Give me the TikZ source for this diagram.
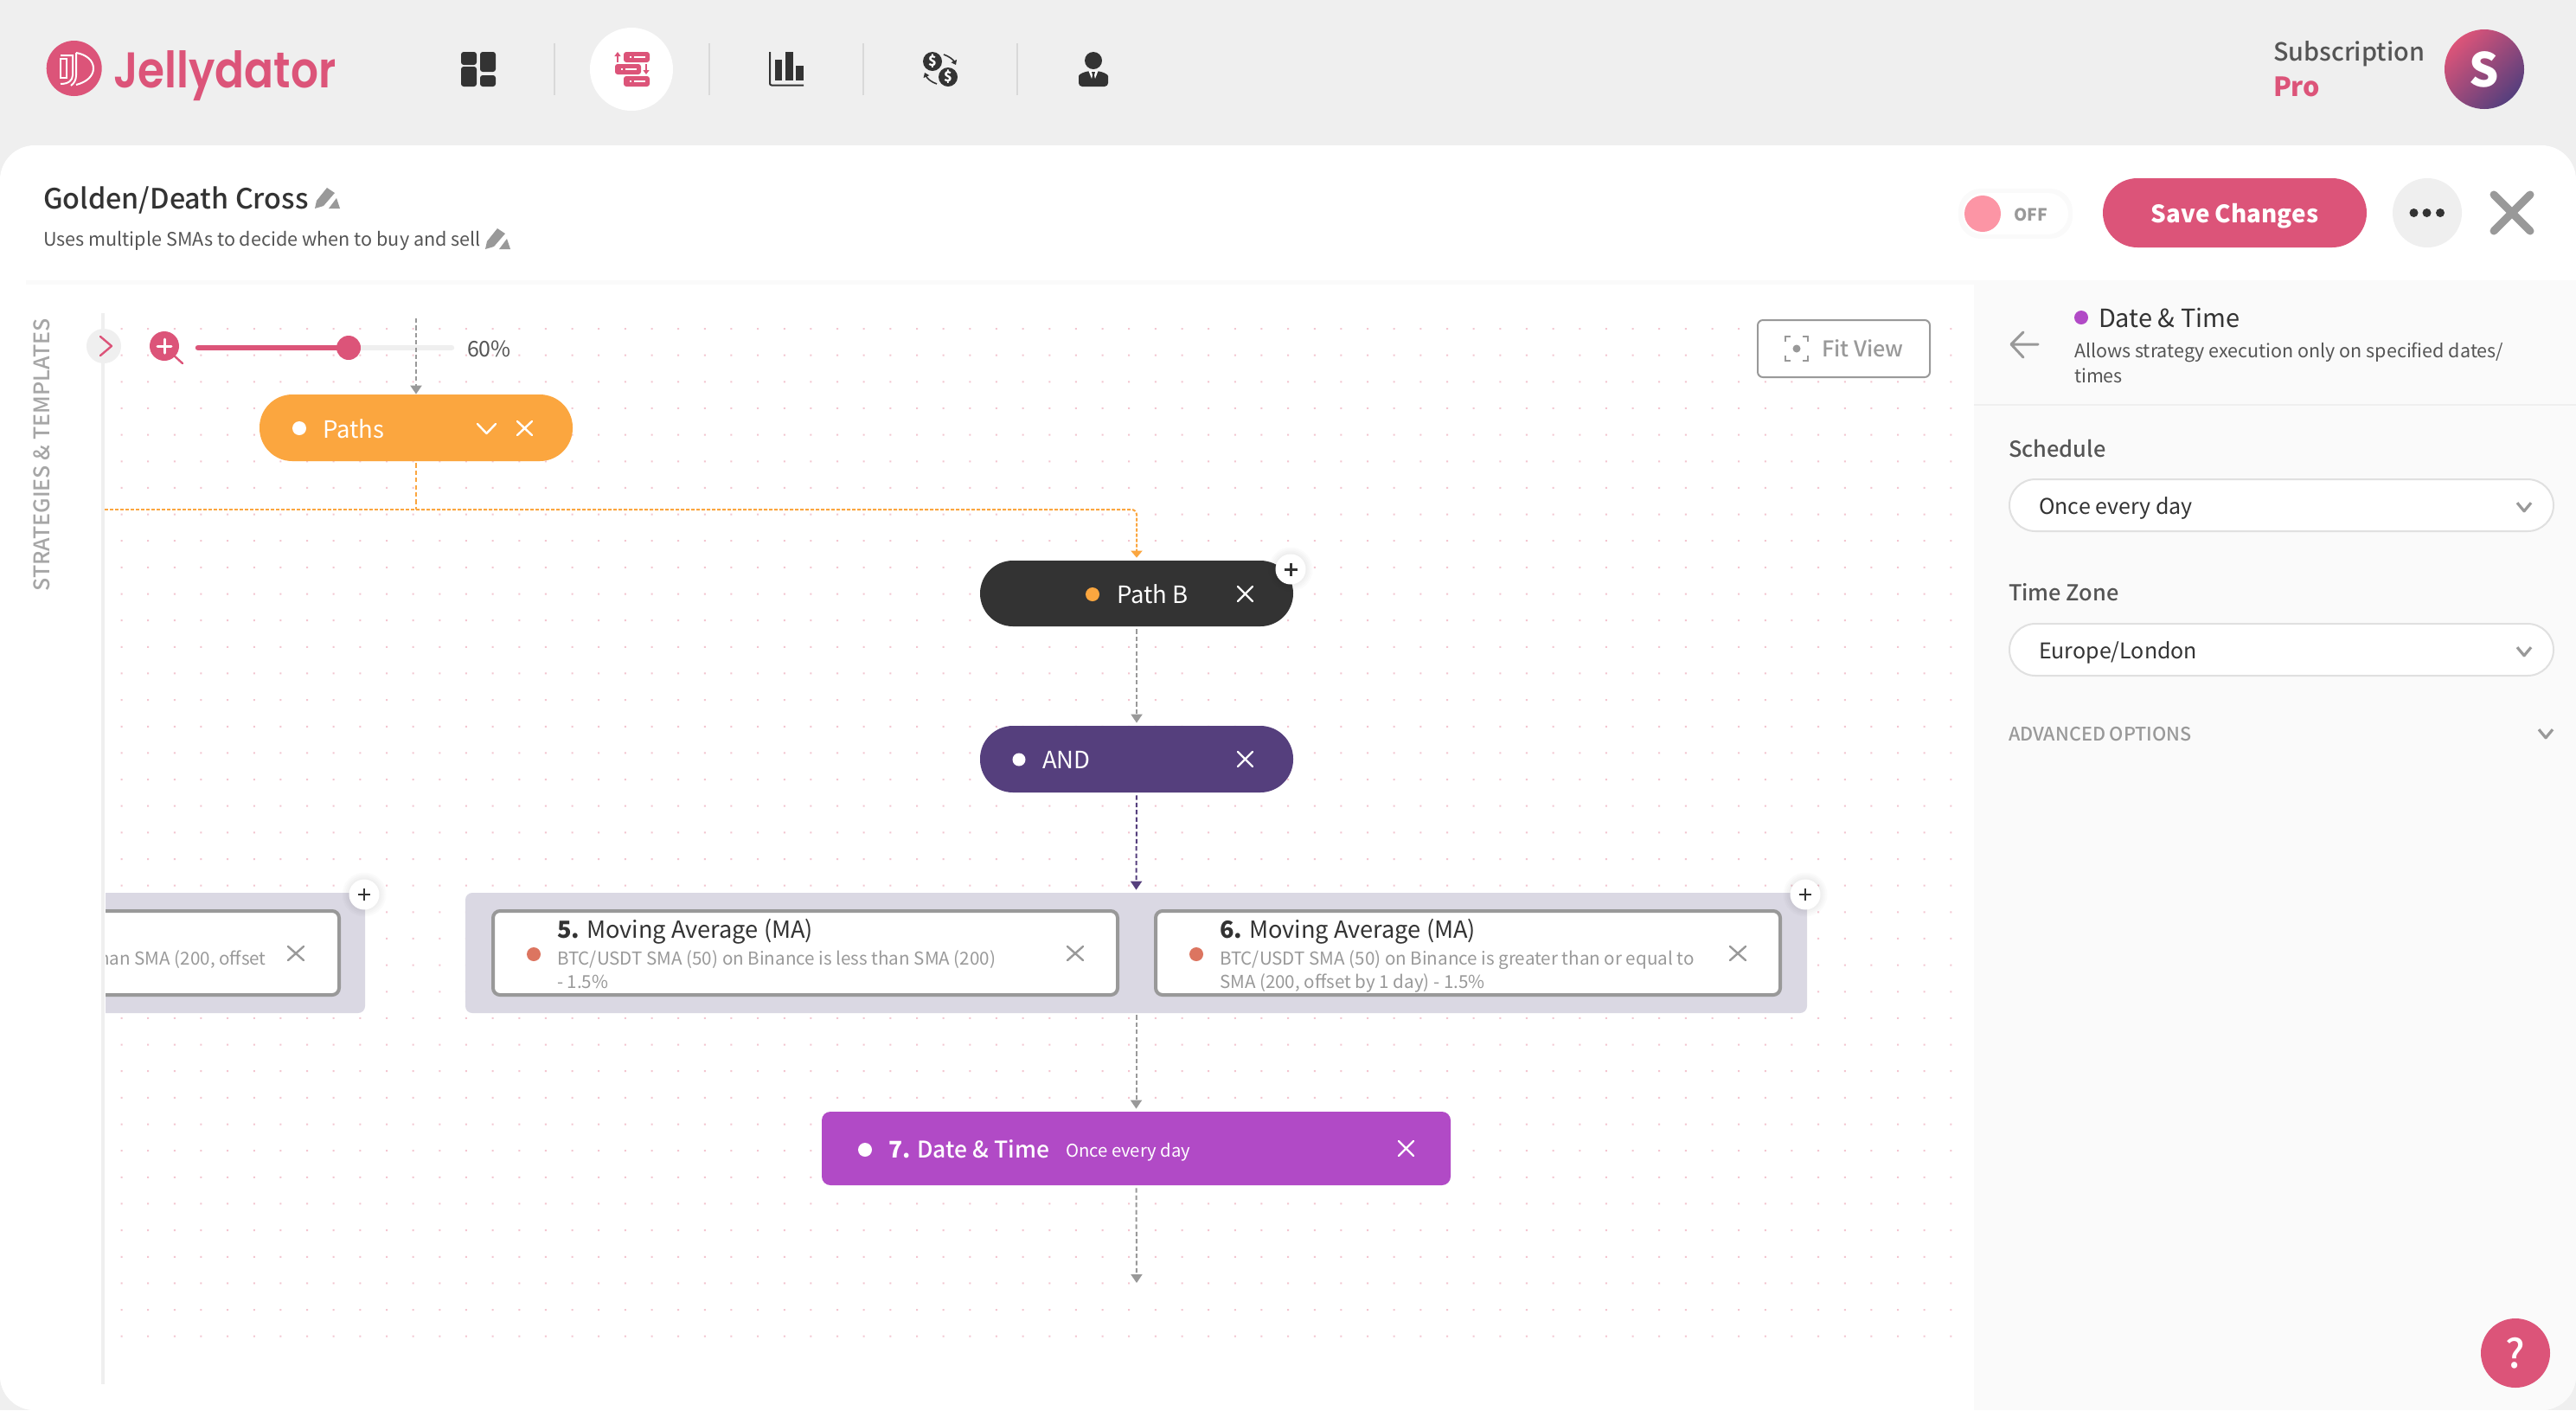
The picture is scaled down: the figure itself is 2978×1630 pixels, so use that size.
\documentclass[tikz,border=0pt]{standalone}
\usepackage{fontspec}
\usetikzlibrary{arrows.meta,shapes.geometric}
\setmainfont{Noto Sans CJK SC}
\newfontfamily\med{Noto Sans CJK SC Medium}
\newfontfamily\pop{Poppins SemiBold}
\newcommand\fs[1]{\fontsize{\fpeval{#1/2}}{\fpeval{#1/2}}\selectfont}
\definecolor{pk}{HTML}{DC5479}
\definecolor{topbg}{HTML}{EFEFEF}
\definecolor{dk}{HTML}{333333}
\definecolor{gr}{HTML}{999999}
\definecolor{mid}{HTML}{555555}
\definecolor{orng}{HTML}{FBA63F}
\definecolor{purp}{HTML}{553F7D}
\definecolor{viol}{HTML}{B14AC6}
\definecolor{grp}{HTML}{DAD8E3}
\definecolor{dotc}{HTML}{F3C6D0}
\definecolor{rdot}{HTML}{DC7560}
\definecolor{panel}{HTML}{FAFAFA}
\definecolor{togg}{HTML}{FC95A5}
\tikzset{
  lab/.style={anchor=base west,inner sep=0pt,outer sep=0pt},
  labc/.style={anchor=base,inner sep=0pt,outer sep=0pt},
  pillbox/.style={draw=none,rectangle,rounded corners=19pt,minimum width=181pt,minimum height=38.5pt,inner sep=0pt},
  groupbox/.style={fill=grp,rectangle,rounded corners=4pt,inner sep=0pt,minimum height=69.5pt},
  cardbox/.style={fill=white,draw=gr,line width=2pt,rectangle,rounded corners=4pt,inner sep=0pt,minimum height=48.5pt},
  dotn/.style={circle,inner sep=0pt,minimum size=8pt},
  conn/.style={draw=gr,line width=1pt,dash pattern=on 2.6pt off 1.6pt,-{Triangle[width=6.5pt,length=5pt,fill=gr]}},
  connor/.style={conn,draw=orng,-{Triangle[width=6.5pt,length=4pt,fill=orng]}},
  connpu/.style={conn,draw=purp,-{Triangle[width=6.5pt,length=5pt,fill=purp]}},
  xmark/.style={line width=1.2pt,line cap=round},
  badge/.style={circle,fill=white,inner sep=0pt,minimum size=17.5pt},
}
\newcommand\xm[5]{\draw[xmark,draw=#5] (#1,#2)--(#3,#4) (#1,#4)--(#3,#2);}
\newcommand\chev[4]{\draw[draw=#4,line width=1.6pt,line join=round] ({#1-#3},{#2-#3*.6})--(#1,{#2+#3*.6})--({#1+#3},{#2-#3*.6});}
\newcommand\pencil[3]{\begin{scope}[shift={(#1,#2)},scale=#3]
  \fill[gr] (0,24)--(2,15)--(14,0)--(23,6)--(10,21)--cycle;
  \fill[gr] (16,24)--(29,24)--(25,12)--cycle;
\end{scope}}
\newcommand\softshadow[3]{\foreach \rr in {8,6,4,2}{\fill[black,opacity=.015] (#1,#2) circle ({#3+\rr});}}
\begin{document}
\begin{tikzpicture}[x=0.5pt,y=-0.5pt]
\path[use as bounding box] (0,0) rectangle (2978,1630);
\fill[topbg] (0,0) rectangle (2978,1630);
% main panel
\fill[white,rounded corners=20pt] (0,168) rectangle (2978,1630);
\begin{scope}
  \clip[rounded corners=20pt] (0,168) rectangle (2978,1630);
  \fill[panel] (2282,325) rectangle (2978,1630);
  \fill[panel] (30,324) rectangle (2978,329);
  \fill[white] (119,329) rectangle (2282,1630);
  \fill[white] (0,329) rectangle (119,1630);
  \fill[topbg] (2282,467) rectangle (2978,469);
\end{scope}
% grid of dots
\fill[dotc] \foreach \i in {0,...,69} {\foreach \j in {0,...,38} {({139.5+\i*30.65},{379+\j*30.65}) rectangle ++(2,2)}};
% --- top bar
\fill[pk] (85.7,79) circle (32);
\begin{scope}[white,line width=1pt]
  \draw (70,68) rectangle (77,90);
  \draw (70,64)--(84,64)--(84,87) .. controls (84,93) and (79,97) .. (70,97);
  \draw (88,61) .. controls (100,63) and (108,70) .. (108,79) .. controls (108,88) and (100,95) .. (88,98);
  \draw (88,61)--(88,87) .. controls (88,92) and (86,96) .. (82,99);
\end{scope}
\node[lab,font=\pop\fs{58},text=pk,xscale=.865,transform shape] (logo) at (131,101) {Jellydator};
% dashboard icon
\fill[dk,rounded corners=1.5pt] (533,60) rectangle (551,75);
\fill[dk,rounded corners=1.5pt] (533,77) rectangle (551,100);
\fill[dk,rounded corners=1.5pt] (555,60) rectangle (573,83);
\fill[dk,rounded corners=1.5pt] (555,87) rectangle (573,100);
% separators
\foreach \sx in {641,820,998,1176} {\draw[draw=black!15,line width=1pt] (\sx,50)--(\sx,110);}
% paths icon
\fill[white] (730,80) circle (48);
\fill[pk,rounded corners=1.5pt] (721,60) rectangle (751,72);
\fill[pk,rounded corners=1.5pt] (711,74) rectangle (741,86);
\fill[pk,rounded corners=1.5pt] (721,88) rectangle (751,100);
\draw[white,line width=.8pt] (728,66)--(729.5,66) (733,66)--(746,66) (718,80)--(719.5,80) (723,80)--(736,80) (728,94)--(729.5,94) (733,94)--(746,94);
\draw[pk,line width=1pt,-{Triangle[width=3.5pt,length=2.5pt]}] (714,72)--(714,60);
\draw[pk,line width=1pt,-{Triangle[width=3.5pt,length=2.5pt]}] (747,74)--(747,86);
% chart icon
\draw[dk,line width=1pt,rounded corners=1pt] (890,60)--(890,98.5)--(929,98.5);
\fill[dk] (896,69) rectangle (904,93);
\fill[dk] (908,60) rectangle (917,93);
\fill[dk] (920,76) rectangle (929,93);
% exchange icon
\fill[dk] (1078,71) circle (11);
\fill[dk] (1096,89) circle (11);
\node[labc,font=\bfseries\fs{16},text=white] (usd1) at (1078,76.5) {\$};
\node[labc,font=\bfseries\fs{16},text=white] (usd2) at (1096,94.5) {\$};
\draw[dk,line width=.8pt,-{Triangle[width=3.5pt,length=2.5pt]}] (1091,63) .. controls (1097,65) and (1102,69) .. (1105,75);
\draw[dk,line width=.8pt,-{Triangle[width=3.5pt,length=2.5pt]}] (1083,97) .. controls (1077,95) and (1072,91) .. (1069,84);
% person icon
\fill[dk] (1264,70) circle (10);
\fill[dk,rounded corners=2pt] (1247,100)--(1247,92) .. controls (1247,86) and (1252,84) .. (1258,82)--(1270,82) .. controls (1276,84) and (1281,86) .. (1281,92)--(1281,100)--cycle;
\fill[white] (1258.5,82)--(1264,96)--(1269.5,82)--cycle;
\fill[dk] (1262,83)--(1266,83)--(1265,87)--(1266.5,94)--(1264,97)--(1261.5,94)--(1263,87)--cycle;
% subscription
\node[lab,font=\med\fs{28.8},text=mid] (subs) at (2628,70) {Subscription};
\node[lab,font=\bfseries\fs{30.5},text=pk] (pro) at (2628,111) {Pro};
\node[circle,inner sep=0pt,minimum size=46pt,top color=pk,bottom color=purp,shading angle=45] (avatar) at (2872,80) {};
\node[labc,font=\bfseries\fs{54},text=white] (avatarS) at (2872,100) {S};
% --- header row
\node[lab,font=\med\fs{32.3},text=dk] (title) at (50,241) {Golden/Death Cross};
\pencil{364}{217}{1}
\node[lab,font=\fs{21.6},text=mid] (subtitle) at (50,284) {Uses multiple SMAs to decide when to buy and sell};
\pencil{561}{264}{1}
\fill[black,opacity=.02,rounded corners=13pt] (2264,218) rectangle (2396,276);
\fill[white,rounded corners=12pt] (2269,223) rectangle (2391,271);
\fill[togg] (2292,247) circle (21);
\node[lab,font=\bfseries\fs{19.5},text=gr] (off) at (2328,255) {OFF};
\node[rectangle,rounded corners=20pt,fill=pk,minimum width=152.5pt,minimum height=40pt,inner sep=0pt] (save) at (2583.5,246) {};
\node[labc,font=\bfseries\fs{27.8},text=white] (savet) at (2583.5,257) {Save Changes};
\node[circle,fill=topbg,minimum size=40pt,inner sep=0pt] (more) at (2806,246) {};
\fill[dk] (2790.5,246) circle (5) (2805.5,246) circle (5) (2821,246) circle (5);
\draw[gr,line width=4.5pt,line cap=round] (2883,225)--(2925,267) (2883,267)--(2925,225);
% --- left strip
\node[rotate=90,font=\med\fs{25},text=black!35,inner sep=0pt] (strat) at (48,526) {STRATEGIES \& TEMPLATES};
\fill[topbg] (117,362) rectangle (121,1600);
\fill[topbg] (120,400) circle (20);
\draw[pk,line width=1.2pt,line cap=round,line join=round] (116,389)--(129,400)--(116,411);
% zoom control
\draw[pk,line width=1.2pt,line cap=round] (200,410)--(211,420);
\fill[pk] (190,400) circle (17);
\draw[white,line width=1.5pt,line cap=round] (182,400)--(198,400) (190,392)--(190,408);
\draw[topbg,line width=3.2pt,line cap=round] (229,402)--(522,402);
\draw[pk,line width=3.2pt,line cap=round] (229,402)--(403,402);
% connectors: coordinates first
\coordinate (topin) at (481,368);
\node[pillbox,fill=orng] (paths) at (481,494.5) {};
\node[pillbox,fill=dk,minimum height=38pt] (pathb) at (1314,686) {};
\node[pillbox,fill=purp] (andn) at (1314,877.5) {};
\node[groupbox,minimum width=775.5pt] (grpR) at (1313.5,1101.5) {};
\node[rectangle,fill=viol,rounded corners=5pt,minimum width=363.5pt,minimum height=42.5pt,inner sep=0pt] (dtn) at (1313.5,1327.5) {};
\coordinate (endp) at (1314,1483);
\coordinate (busl) at (121,589);
\coordinate (bus) at (481,589);
\draw[conn] (topin)--(paths.north);
\fill[pk] (403,402) circle (14);
\node[lab,font=\fs{25},text=mid] (pct) at (540,412) {60\%};
\draw[connor,-] ([yshift=-1pt]paths.south)--(bus);
\draw[connor,-,dash pattern=on 2pt off 1pt] (busl)--(bus);
\draw[connor,dash pattern=on 2pt off 1pt,rounded corners=3pt,shorten >=1.5pt] (bus)--(bus -| pathb.north)--(pathb.north);
\draw[conn,shorten <=1.5pt,shorten >=1.5pt] (pathb.south)--(andn.north);
\draw[connpu,shorten <=1.5pt,shorten >=1.5pt] (andn.south)--(grpR.north);
\draw[conn,shorten <=1pt,shorten >=1.5pt] (grpR.south)--(dtn.north);
\draw[conn,shorten <=1.5pt] (dtn.south)--(endp);
% paths content
\node[dotn,fill=white] (d1) at (346,495) {};
\node[lab,font=\fs{27.5},text=white] (t1) at (373,506) {Paths};
\draw[white,line width=1.2pt,line cap=round,line join=round] (552,490)--(562.5,501)--(573,490);
\xm{598}{487}{615}{503}{white}
% path b content
\node[dotn,fill=orng] (d2) at (1263,687) {};
\node[lab,font=\fs{27.5},text=white] (t2) at (1291,697) {Path B};
\xm{1431}{678}{1448}{695}{white}
\softshadow{1492}{658}{17.5}
\node[badge] (pl1) at (1492,658) {};
\draw[dk,line width=1.5pt] (1484.5,658)--(1499.5,658) (1492,650.5)--(1492,665.5);
% and content
\node[dotn,fill=white,minimum size=7.5pt] (d3) at (1178,878) {};
\node[lab,font=\fs{27.5},text=white] (t3) at (1205,888) {AND};
\xm{1431}{869}{1448}{886}{white}
% left group (cut by the strip)
\begin{scope}
\clip (122,1000) rectangle (500,1200);
\node[groupbox,minimum width=181pt] (grpL) at (241,1101.5) {};
\node[cardbox,minimum width=175pt] (card4) at (217,1101.5) {};
\node[anchor=base east,inner sep=0pt,font=\fs{20.6},text=gr] (c4t) at (308,1115) {than SMA (200, offset};
\end{scope}
\xm{333}{1094}{351}{1110}{gr}
\softshadow{421}{1034}{17.5}
\node[badge] (pl2) at (421,1034) {};
\draw[dk,line width=1pt] (414,1034)--(428,1034) (421,1027)--(421,1041);
% card 5
\node[cardbox,minimum width=361pt] (card5) at (931,1101.5) {};
\node[dotn,fill=rdot] (d5) at (617,1103) {};
\node[lab,font=\fs{27.2},text=dk] (t5) at (644,1084) {{\bfseries 5.} Moving Average (MA)};
\node[lab,font=\fs{20.6},text=gr] (t5a) at (644,1115) {BTC/USDT SMA (50) on Binance is less than SMA (200)};
\node[lab,font=\fs{20.6},text=gr] (t5b) at (644,1142) {- 1.5\%};
\xm{1234}{1094}{1252}{1110}{gr}
% card 6
\node[cardbox,minimum width=361pt] (card6) at (1697,1101.5) {};
\node[dotn,fill=rdot] (d6) at (1383,1103) {};
\node[lab,font=\fs{27.2},text=dk] (t6) at (1410,1084) {{\bfseries 6.} Moving Average (MA)};
\node[lab,font=\fs{20.6},text=gr] (t6a) at (1410,1115) {BTC/USDT SMA (50) on Binance is greater than or equal to};
\node[lab,font=\fs{20.6},text=gr] (t6b) at (1410,1142) {SMA (200, offset by 1 day) - 1.5\%};
\xm{2000}{1094}{2018}{1110}{gr}
\softshadow{2087}{1034}{17.5}
\node[badge] (pl3) at (2087,1034) {};
\draw[dk,line width=1pt] (2080,1034)--(2094,1034) (2087,1027)--(2087,1041);
% date node
\node[dotn,fill=white] (d7) at (1000,1329) {};
\node[lab,font=\med\fs{26.5},text=white] (t7) at (1027,1338) {{\bfseries 7.} Date \& Time};
\node[lab,font=\fs{20.3},text=white] (t7b) at (1232,1337) {Once every day};
\xm{1617}{1319}{1634}{1336}{white}
% fit view
\draw[gr,line width=1pt,fill=white,rounded corners=3pt] (2032,370) rectangle (2231,436);
\begin{scope}[gr,line width=1pt]
\draw (2064,395)--(2064,389)--(2070,389) (2084,389)--(2090,389)--(2090,395) (2090,411)--(2090,417)--(2084,417) (2070,417)--(2064,417)--(2064,411);
\fill (2077,403) circle (4.5);
\end{scope}
\node[lab,font=\med\fs{25.2},text=gr] (fit) at (2106,412) {Fit View};
% right panel
\node[dotn,fill=viol] (d8) at (2406,367) {};
\node[lab,font=\fs{29},text=dk] (pt) at (2426,378) {Date \& Time};
\node[lab,font=\fs{21.5},text=mid] (pd1) at (2398,413) {Allows strategy execution only on specified dates/};
\node[lab,font=\fs{21.5},text=mid] (pd2) at (2398,442) {times};
\draw[gr,line width=1.5pt,line cap=round,line join=round] (2356,398)--(2326,398) (2339,384)--(2325,398)--(2339,413);
\node[lab,font=\med\fs{25.4},text=mid] (sch) at (2322,528) {Schedule};
\draw[draw=black!12,line width=1pt,fill=white,rounded corners=15pt] (2323,554) rectangle (2952,614);
\node[lab,font=\fs{25},text=dk] (sch1) at (2357,594) {Once every day};
\chev{2918}{586}{8}{gr}
\node[lab,font=\med\fs{25.4},text=mid] (tz) at (2322,694) {Time Zone};
\draw[draw=black!12,line width=1pt,fill=white,rounded corners=15pt] (2323,721) rectangle (2952,781);
\node[lab,font=\fs{25},text=dk] (tz1) at (2357,761) {Europe/London};
\chev{2918}{753}{8}{gr}
\node[lab,font=\med\fs{21.6},text=gr] (adv) at (2322,856) {ADVANCED OPTIONS};
\chev{2943}{848}{8}{gr}
\node[circle,fill=pk,minimum size=40pt,inner sep=0pt] (help) at (2908,1564) {};
\node[labc,font=\med\fs{46},text=white] (helpq) at (2908,1581) {?};
\end{tikzpicture}
\end{document}
